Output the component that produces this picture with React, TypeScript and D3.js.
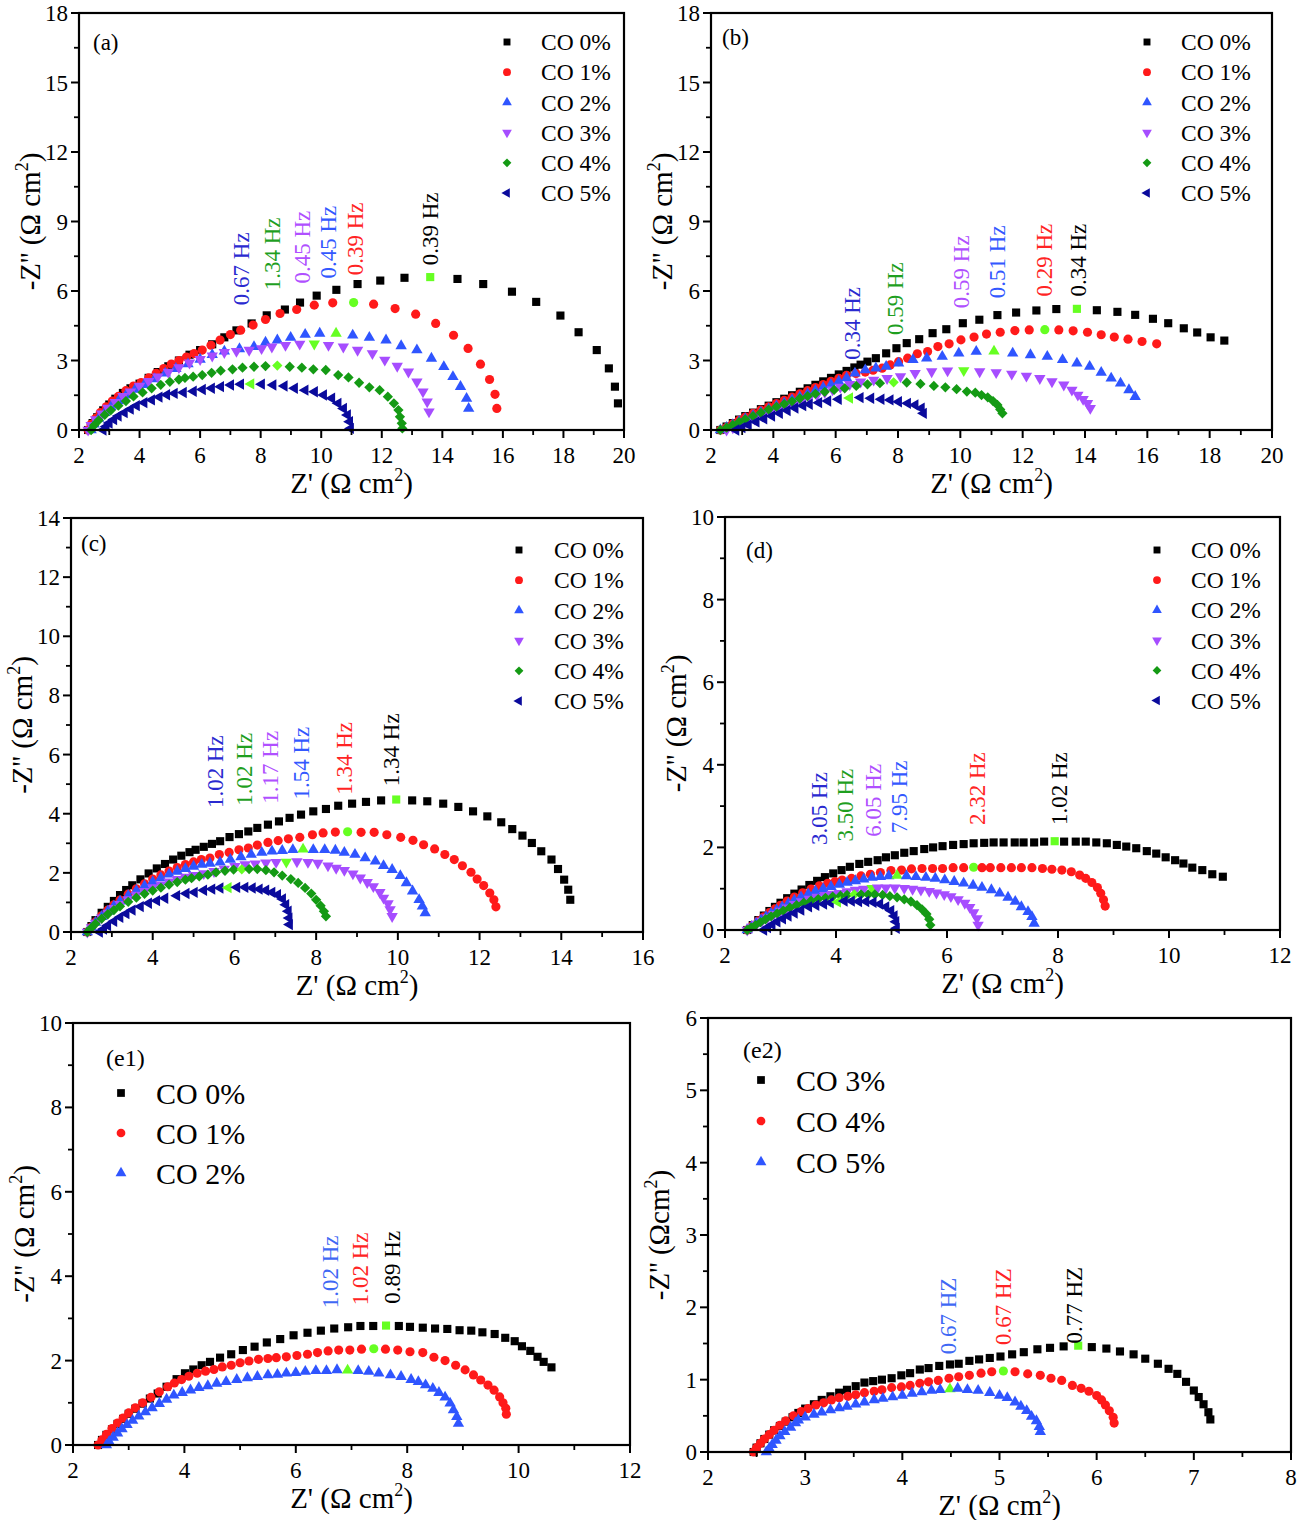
import * as d3 from 'd3';

type Pt = [number, number];

// ---------- panel (a) ----------
const aCO0: Pt[] = [[2.3,0],[2.45,0.3],[2.6,0.55],[2.8,0.85],[3.0,1.1],[3.2,1.35],[3.45,1.6],[3.7,1.8],[4.0,2.0],[4.3,2.25],[4.6,2.5],[4.95,2.75],[5.3,3.0],[5.65,3.25],[6.0,3.45],[6.4,3.7],[6.8,4.0],[7.2,4.3],[7.7,4.6],[8.2,4.95],[8.8,5.2],[9.3,5.5],[9.85,5.8],[10.5,6.05],[11.2,6.3],[11.95,6.45],[12.75,6.57],[13.6,6.6],[14.5,6.52],[15.35,6.3],[16.3,5.97],[17.1,5.53],[17.9,4.94],[18.5,4.22],[19.1,3.45],[19.5,2.66],[19.7,1.87],[19.8,1.15]];
const aCO1: Pt[] = [[2.3,0],[2.4,0.25],[2.55,0.5],[2.7,0.75],[2.9,1.0],[3.1,1.25],[3.3,1.45],[3.55,1.7],[3.8,1.9],[4.05,2.05],[4.3,2.25],[4.55,2.45],[4.8,2.65],[5.05,2.85],[5.3,3.0],[5.55,3.15],[5.8,3.3],[6.07,3.45],[6.36,3.66],[6.66,3.88],[7.0,4.12],[7.34,4.31],[7.75,4.53],[8.16,4.77],[8.64,5.03],[9.19,5.2],[9.77,5.39],[10.38,5.49],[11.07,5.5],[11.73,5.43],[12.44,5.24],[13.12,5.0],[13.78,4.6],[14.37,4.09],[14.85,3.52],[15.26,2.84],[15.56,2.18],[15.74,1.54],[15.8,0.93]];
const aCO2: Pt[] = [[2.4,0],[2.5,0.25],[2.65,0.5],[2.85,0.75],[3.05,1.0],[3.3,1.25],[3.55,1.5],[3.85,1.75],[4.15,1.95],[4.5,2.2],[4.85,2.45],[5.2,2.65],[5.6,2.85],[6.0,3.05],[6.4,3.25],[6.8,3.4],[7.3,3.5],[7.78,3.59],[8.16,3.78],[8.55,3.88],[8.99,3.99],[9.47,4.12],[9.95,4.17],[10.49,4.17],[11.04,4.09],[11.59,3.99],[12.14,3.88],[12.64,3.63],[13.16,3.45],[13.64,3.09],[14.05,2.73],[14.35,2.3],[14.6,1.87],[14.8,1.36],[14.87,0.93]];
const aCO3: Pt[] = [[2.3,0],[2.4,0.2],[2.55,0.45],[2.75,0.7],[2.95,0.95],[3.2,1.2],[3.45,1.45],[3.7,1.65],[4.0,1.9],[4.3,2.1],[4.6,2.3],[4.95,2.5],[5.3,2.7],[5.65,2.9],[6.0,3.05],[6.4,3.2],[6.8,3.35],[7.2,3.4],[7.62,3.45],[8.03,3.52],[8.37,3.59],[8.82,3.66],[9.29,3.71],[9.77,3.72],[10.24,3.66],[10.73,3.59],[11.2,3.45],[11.69,3.3],[12.1,3.02],[12.51,2.76],[12.88,2.51],[13.16,2.08],[13.36,1.65],[13.5,1.22],[13.56,0.79]];
const aCO4: Pt[] = [[2.4,0],[2.5,0.2],[2.65,0.42],[2.85,0.65],[3.05,0.85],[3.3,1.05],[3.55,1.25],[3.8,1.45],[4.1,1.62],[4.4,1.8],[4.7,1.95],[5.0,2.08],[5.3,2.18],[5.5,2.25],[5.77,2.3],[6.07,2.37],[6.38,2.47],[6.68,2.56],[7.07,2.62],[7.4,2.69],[7.78,2.73],[8.16,2.76],[8.55,2.78],[8.96,2.73],[9.36,2.69],[9.74,2.62],[10.15,2.59],[10.56,2.37],[10.9,2.27],[11.25,2.04],[11.59,1.84],[11.93,1.72],[12.2,1.44],[12.4,1.15],[12.55,0.86],[12.6,0.57],[12.66,0.29],[12.68,0.07]];
const aCO5: Pt[] = [[2.8,0],[2.9,0.15],[3.0,0.3],[3.15,0.45],[3.3,0.6],[3.5,0.75],[3.7,0.9],[3.9,1.05],[4.15,1.18],[4.4,1.3],[4.65,1.42],[4.9,1.52],[5.15,1.58],[5.45,1.62],[5.78,1.67],[6.08,1.75],[6.38,1.8],[6.68,1.87],[7.01,1.94],[7.34,1.98],[7.68,1.99],[8.03,1.98],[8.41,1.94],[8.78,1.9],[9.12,1.8],[9.47,1.72],[9.78,1.65],[10.08,1.51],[10.35,1.37],[10.56,1.15],[10.74,0.93],[10.87,0.65],[10.94,0.36],[10.97,0.07]];
const aPeaks = [13.6, 11.07, 10.49, 9.77, 8.55, 7.68];
const aFreq = ['0.39 Hz', '0.39 Hz', '0.45 Hz', '0.45 Hz', '1.34 Hz', '0.67 Hz'];
const aFreqAt: Pt[] = [[13.58,7.11],[11.11,6.68],[10.22,6.54],[9.37,6.32],[8.37,6.03],[7.34,5.39]];

// ---------- panel (b) ----------
const bCO0: Pt[] = [[2.3,0],[2.5,0.15],[2.7,0.3],[2.9,0.45],[3.1,0.6],[3.35,0.75],[3.6,0.9],[3.85,1.05],[4.1,1.2],[4.35,1.35],[4.6,1.5],[4.85,1.65],[5.1,1.8],[5.35,1.95],[5.6,2.1],[5.85,2.25],[6.1,2.4],[6.35,2.55],[6.6,2.7],[6.8,2.82],[7.02,2.95],[7.29,3.1],[7.62,3.31],[7.95,3.53],[8.28,3.75],[8.68,3.92],[9.11,4.18],[9.55,4.35],[10.08,4.61],[10.61,4.76],[11.19,4.96],[11.79,5.07],[12.44,5.16],[13.08,5.22],[13.74,5.23],[14.38,5.17],[15.04,5.1],[15.61,4.97],[16.18,4.8],[16.67,4.61],[17.17,4.39],[17.6,4.21],[18.03,4.0],[18.47,3.86]];
const bCO1: Pt[] = [[2.3,0],[2.5,0.12],[2.7,0.27],[2.9,0.42],[3.1,0.56],[3.35,0.72],[3.6,0.86],[3.85,1.0],[4.1,1.14],[4.35,1.28],[4.6,1.42],[4.85,1.56],[5.1,1.7],[5.35,1.83],[5.6,1.96],[5.85,2.1],[6.1,2.23],[6.35,2.36],[6.65,2.44],[6.95,2.5],[7.2,2.58],[7.49,2.67],[7.75,2.81],[8.02,2.95],[8.31,3.1],[8.62,3.29],[8.95,3.39],[9.28,3.6],[9.64,3.72],[10.02,3.89],[10.44,4.01],[10.84,4.14],[11.28,4.22],[11.75,4.29],[12.21,4.32],[12.71,4.33],[13.16,4.32],[13.62,4.28],[14.08,4.22],[14.52,4.11],[14.94,4.01],[15.38,3.92],[15.83,3.82],[16.3,3.72]];
const bCO2: Pt[] = [[2.3,0],[2.5,0.1],[2.7,0.22],[2.9,0.35],[3.1,0.48],[3.35,0.62],[3.6,0.76],[3.85,0.9],[4.1,1.03],[4.35,1.16],[4.6,1.3],[4.85,1.43],[5.1,1.56],[5.35,1.7],[5.6,1.83],[5.85,1.96],[6.1,2.1],[6.35,2.25],[6.62,2.45],[6.95,2.59],[7.29,2.67],[7.62,2.74],[8.02,2.88],[8.48,3.03],[8.92,3.1],[9.42,3.17],[9.95,3.31],[10.51,3.39],[11.08,3.4],[11.68,3.31],[12.25,3.24],[12.79,3.17],[13.28,3.03],[13.74,2.88],[14.15,2.74],[14.52,2.48],[14.84,2.23],[15.14,2.02],[15.41,1.73],[15.61,1.44]];
const bCO3: Pt[] = [[2.5,0],[2.7,0.1],[2.9,0.22],[3.15,0.35],[3.4,0.48],[3.65,0.62],[3.9,0.75],[4.15,0.88],[4.4,1.0],[4.65,1.12],[4.9,1.25],[5.15,1.38],[5.4,1.5],[5.65,1.62],[5.9,1.74],[6.15,1.85],[6.45,1.97],[6.8,2.08],[7.22,2.16],[7.65,2.23],[8.08,2.31],[8.55,2.45],[9.08,2.52],[9.59,2.56],[10.11,2.57],[10.62,2.52],[11.15,2.48],[11.65,2.42],[12.12,2.33],[12.55,2.23],[12.94,2.09],[13.32,1.95],[13.58,1.73],[13.77,1.51],[13.94,1.33],[14.08,1.15],[14.17,0.94]];
const bCO4: Pt[] = [[2.3,0],[2.5,0.1],[2.7,0.22],[2.9,0.34],[3.1,0.46],[3.35,0.6],[3.6,0.74],[3.85,0.88],[4.1,1.0],[4.35,1.12],[4.6,1.24],[4.85,1.36],[5.1,1.46],[5.35,1.56],[5.65,1.65],[5.95,1.73],[6.29,1.8],[6.66,1.9],[7.02,1.97],[7.42,2.02],[7.86,2.06],[8.28,2.05],[8.72,1.99],[9.15,1.9],[9.52,1.84],[9.88,1.76],[10.21,1.66],[10.48,1.61],[10.68,1.51],[10.88,1.41],[11.05,1.25],[11.19,1.08],[11.28,0.89],[11.35,0.72]];
const bCO5: Pt[] = [[2.8,0],[3.0,0.1],[3.2,0.22],[3.45,0.35],[3.7,0.48],[3.95,0.6],[4.2,0.72],[4.45,0.84],[4.7,0.95],[4.95,1.05],[5.16,1.11],[5.46,1.18],[5.75,1.25],[6.09,1.33],[6.45,1.38],[6.79,1.4],[7.13,1.37],[7.46,1.33],[7.75,1.3],[8.02,1.22],[8.31,1.15],[8.55,1.08],[8.75,0.94],[8.82,0.72]];
const bPeaks = [13.74, 12.71, 11.08, 10.11, 7.86, 6.45];
const bFreq = ['0.34 Hz', '0.29 Hz', '0.51 Hz', '0.59 Hz', '0.59 Hz', '0.34 Hz'];
const bFreqAt: Pt[] = [[13.77,5.76],[12.68,5.76],[11.19,5.69],[10.02,5.26],[7.89,4.1],[6.53,3.03]];

// ---------- panel (c) ----------
const cCO0: Pt[] = [[2.4,0],[2.5,0.2],[2.6,0.4],[2.75,0.65],[2.9,0.85],[3.05,1.05],[3.2,1.25],[3.35,1.42],[3.5,1.58],[3.7,1.78],[3.9,1.98],[4.1,2.15],[4.3,2.3],[4.5,2.45],[4.7,2.58],[4.9,2.7],[5.05,2.78],[5.25,2.88],[5.45,2.98],[5.65,3.07],[5.88,3.21],[6.11,3.31],[6.34,3.4],[6.56,3.52],[6.82,3.63],[7.09,3.74],[7.35,3.86],[7.63,3.97],[7.93,4.08],[8.24,4.16],[8.54,4.27],[8.88,4.34],[9.22,4.4],[9.59,4.45],[9.96,4.48],[10.35,4.45],[10.72,4.42],[11.11,4.34],[11.48,4.23],[11.84,4.08],[12.19,3.91],[12.53,3.71],[12.8,3.48],[13.05,3.26],[13.28,3.01],[13.51,2.73],[13.76,2.45],[13.92,2.13],[14.07,1.77],[14.17,1.43],[14.22,1.09]];
const cCO1: Pt[] = [[2.4,0],[2.5,0.17],[2.6,0.34],[2.75,0.55],[2.9,0.74],[3.05,0.92],[3.2,1.08],[3.4,1.28],[3.6,1.46],[3.8,1.63],[4.0,1.79],[4.2,1.93],[4.4,2.06],[4.6,2.18],[4.8,2.28],[5.0,2.37],[5.19,2.45],[5.4,2.5],[5.63,2.62],[5.87,2.69],[6.11,2.78],[6.34,2.84],[6.56,2.94],[6.82,3.03],[7.07,3.09],[7.32,3.15],[7.6,3.2],[7.91,3.29],[8.17,3.35],[8.47,3.38],[8.77,3.39],[9.1,3.37],[9.42,3.37],[9.73,3.29],[10.07,3.2],[10.37,3.1],[10.63,2.95],[10.9,2.81],[11.15,2.62],[11.38,2.45],[11.58,2.24],[11.79,2.02],[11.94,1.79],[12.1,1.57],[12.25,1.32],[12.35,1.09],[12.4,0.85]];
const cCO2: Pt[] = [[2.4,0],[2.5,0.16],[2.6,0.32],[2.75,0.52],[2.9,0.7],[3.05,0.88],[3.2,1.04],[3.4,1.23],[3.6,1.4],[3.8,1.56],[4.0,1.7],[4.2,1.83],[4.4,1.95],[4.6,2.05],[4.8,2.14],[5.0,2.22],[5.2,2.28],[5.4,2.32],[5.65,2.36],[5.9,2.45],[6.16,2.54],[6.41,2.62],[6.67,2.69],[6.92,2.73],[7.17,2.75],[7.43,2.78],[7.68,2.8],[7.93,2.78],[8.21,2.78],[8.47,2.76],[8.69,2.69],[8.95,2.62],[9.2,2.5],[9.45,2.39],[9.65,2.24],[9.86,2.11],[10.06,1.9],[10.21,1.66],[10.36,1.38],[10.52,1.09],[10.6,0.87],[10.67,0.64]];
const cCO3: Pt[] = [[2.4,0],[2.5,0.15],[2.6,0.3],[2.75,0.48],[2.9,0.64],[3.05,0.8],[3.2,0.94],[3.4,1.1],[3.6,1.25],[3.8,1.38],[4.0,1.5],[4.2,1.6],[4.4,1.7],[4.6,1.78],[4.8,1.86],[5.0,1.92],[5.25,1.98],[5.5,2.05],[5.75,2.13],[6.01,2.22],[6.26,2.28],[6.51,2.31],[6.77,2.34],[7.02,2.36],[7.27,2.37],[7.53,2.38],[7.8,2.36],[8.04,2.33],[8.29,2.24],[8.49,2.16],[8.69,2.09],[8.9,1.97],[9.08,1.83],[9.25,1.68],[9.4,1.54],[9.56,1.34],[9.65,1.15],[9.76,0.96],[9.81,0.76],[9.86,0.53]];
const cCO4: Pt[] = [[2.4,0],[2.5,0.14],[2.6,0.28],[2.75,0.45],[2.9,0.6],[3.05,0.74],[3.2,0.87],[3.4,1.02],[3.6,1.16],[3.8,1.29],[4.0,1.4],[4.2,1.5],[4.4,1.6],[4.6,1.69],[4.8,1.77],[4.95,1.82],[5.14,1.88],[5.35,1.94],[5.55,2.02],[5.77,2.07],[5.98,2.11],[6.18,2.12],[6.36,2.13],[6.56,2.13],[6.77,2.09],[6.97,2.02],[7.17,1.91],[7.38,1.79],[7.56,1.66],[7.73,1.49],[7.88,1.3],[8.0,1.09],[8.11,0.89],[8.19,0.7],[8.24,0.53]];
const cCO5: Pt[] = [[2.7,0],[2.8,0.1],[2.9,0.22],[3.05,0.36],[3.2,0.5],[3.35,0.62],[3.5,0.74],[3.7,0.86],[3.9,0.97],[4.1,1.06],[4.3,1.14],[4.59,1.23],[4.82,1.3],[5.02,1.34],[5.25,1.41],[5.45,1.45],[5.65,1.49],[5.85,1.5],[6.06,1.51],[6.26,1.51],[6.44,1.49],[6.61,1.45],[6.77,1.41],[6.92,1.34],[7.06,1.26],[7.18,1.12],[7.26,0.92],[7.32,0.7],[7.34,0.47],[7.35,0.25]];
const cPeaks = [9.96, 8.77, 7.68, 7.27, 6.18, 5.85];
const cFreq = ['1.34 Hz', '1.34 Hz', '1.54 Hz', '1.17 Hz', '1.02 Hz', '1.02 Hz'];
const cFreqAt: Pt[] = [[9.83,4.93],[8.69,4.64],[7.63,4.48],[6.87,4.34],[6.24,4.27],[5.53,4.19]];

// ---------- panel (d) ----------
const dCO0: Pt[] = [[2.4,0],[2.5,0.12],[2.6,0.24],[2.7,0.35],[2.8,0.46],[2.9,0.56],[3.0,0.66],[3.12,0.77],[3.25,0.88],[3.38,0.98],[3.52,1.09],[3.66,1.19],[3.8,1.28],[3.95,1.37],[4.1,1.45],[4.25,1.53],[4.42,1.6],[4.58,1.65],[4.75,1.69],[4.9,1.76],[5.06,1.81],[5.23,1.87],[5.4,1.91],[5.59,1.96],[5.75,2.0],[5.92,2.03],[6.11,2.06],[6.3,2.08],[6.48,2.1],[6.67,2.11],[6.84,2.12],[7.02,2.12],[7.22,2.12],[7.38,2.12],[7.57,2.12],[7.75,2.14],[7.94,2.15],[8.11,2.14],[8.32,2.14],[8.5,2.14],[8.69,2.12],[8.88,2.1],[9.06,2.06],[9.23,2.02],[9.41,1.98],[9.6,1.91],[9.77,1.85],[9.94,1.76],[10.11,1.69],[10.26,1.61],[10.42,1.51],[10.6,1.45],[10.78,1.35],[10.97,1.29]];
const dCO1: Pt[] = [[2.4,0],[2.5,0.11],[2.6,0.22],[2.7,0.32],[2.8,0.42],[2.9,0.51],[3.0,0.6],[3.12,0.7],[3.25,0.8],[3.4,0.9],[3.55,0.99],[3.7,1.07],[3.85,1.13],[3.98,1.17],[4.11,1.21],[4.28,1.25],[4.45,1.31],[4.62,1.35],[4.8,1.39],[4.99,1.44],[5.18,1.45],[5.36,1.48],[5.55,1.49],[5.74,1.49],[5.92,1.49],[6.11,1.51],[6.3,1.51],[6.48,1.52],[6.63,1.51],[6.78,1.51],[6.97,1.51],[7.16,1.51],[7.34,1.51],[7.53,1.51],[7.72,1.49],[7.89,1.47],[8.07,1.45],[8.24,1.41],[8.39,1.33],[8.5,1.25],[8.61,1.15],[8.71,1.03],[8.77,0.89],[8.82,0.73],[8.85,0.58]];
const dCO2: Pt[] = [[2.4,0],[2.48,0.08],[2.56,0.16],[2.65,0.24],[2.74,0.32],[2.83,0.4],[2.93,0.48],[3.03,0.56],[3.14,0.64],[3.25,0.72],[3.37,0.8],[3.5,0.87],[3.63,0.94],[3.77,1.0],[3.91,1.05],[4.06,1.1],[4.2,1.15],[4.35,1.19],[4.5,1.23],[4.65,1.27],[4.8,1.29],[4.95,1.31],[5.1,1.32],[5.27,1.31],[5.44,1.29],[5.62,1.27],[5.79,1.25],[5.96,1.21],[6.13,1.17],[6.3,1.13],[6.47,1.08],[6.63,1.03],[6.8,0.97],[6.95,0.89],[7.1,0.79],[7.23,0.69],[7.34,0.56],[7.46,0.44],[7.53,0.32],[7.57,0.16]];
const dCO3: Pt[] = [[2.4,0],[2.48,0.07],[2.57,0.14],[2.67,0.22],[2.77,0.3],[2.88,0.38],[3.0,0.46],[3.12,0.54],[3.25,0.62],[3.38,0.69],[3.52,0.75],[3.66,0.8],[3.8,0.84],[3.93,0.87],[4.06,0.89],[4.2,0.93],[4.35,0.97],[4.5,0.99],[4.65,1.01],[4.75,1.02],[4.9,1.02],[5.06,1.02],[5.23,1.01],[5.38,0.99],[5.53,0.97],[5.68,0.94],[5.81,0.9],[5.95,0.86],[6.07,0.81],[6.2,0.74],[6.32,0.65],[6.41,0.55],[6.48,0.42],[6.54,0.28],[6.56,0.12]];
const dCO4: Pt[] = [[2.4,0],[2.47,0.06],[2.55,0.12],[2.64,0.19],[2.73,0.26],[2.83,0.33],[2.94,0.4],[3.05,0.47],[3.17,0.54],[3.29,0.6],[3.42,0.66],[3.55,0.71],[3.68,0.75],[3.81,0.78],[3.94,0.81],[4.08,0.83],[4.2,0.85],[4.33,0.86],[4.45,0.86],[4.58,0.86],[4.7,0.86],[4.84,0.85],[4.97,0.82],[5.1,0.79],[5.23,0.74],[5.35,0.69],[5.46,0.6],[5.55,0.5],[5.63,0.39],[5.68,0.26],[5.7,0.12]];
const dCO5: Pt[] = [[2.7,0],[2.77,0.06],[2.85,0.13],[2.94,0.2],[3.04,0.27],[3.14,0.34],[3.25,0.41],[3.37,0.48],[3.51,0.56],[3.64,0.6],[3.78,0.63],[3.9,0.66],[4.03,0.68],[4.15,0.7],[4.28,0.7],[4.41,0.69],[4.54,0.69],[4.67,0.67],[4.79,0.63],[4.9,0.56],[4.99,0.47],[5.05,0.34],[5.08,0.2],[5.09,0.04]];
const dPeaks = [7.94, 6.48, 5.1, 4.65, 4.33, 4.03];
const dFreq = ['1.02 Hz', '2.32 Hz', '7.95 Hz', '6.05 Hz', '3.50 Hz', '3.05 Hz'];
const dFreqAt: Pt[] = [[8.02,2.54],[6.54,2.54],[5.14,2.34],[4.67,2.26],[4.17,2.14],[3.7,2.06]];

// ---------- panel (e1) ----------
const e1CO0: Pt[] = [[2.45,0],[2.52,0.12],[2.6,0.24],[2.7,0.37],[2.8,0.5],[2.9,0.62],[3.0,0.74],[3.12,0.86],[3.25,0.98],[3.38,1.1],[3.52,1.22],[3.68,1.38],[3.86,1.56],[4.01,1.7],[4.16,1.79],[4.31,1.89],[4.46,1.97],[4.64,2.07],[4.84,2.15],[5.05,2.25],[5.26,2.33],[5.48,2.43],[5.72,2.51],[5.96,2.6],[6.21,2.66],[6.45,2.71],[6.69,2.76],[6.94,2.79],[7.16,2.82],[7.39,2.82],[7.62,2.83],[7.85,2.82],[8.05,2.8],[8.28,2.78],[8.5,2.76],[8.72,2.75],[8.94,2.72],[9.15,2.71],[9.35,2.67],[9.57,2.63],[9.76,2.54],[9.93,2.46],[10.06,2.34],[10.21,2.23],[10.34,2.09],[10.45,1.97],[10.59,1.84]];
const e1CO1: Pt[] = [[2.45,0],[2.52,0.12],[2.6,0.25],[2.7,0.39],[2.8,0.52],[2.9,0.64],[3.0,0.76],[3.12,0.88],[3.25,1.0],[3.4,1.13],[3.55,1.26],[3.7,1.38],[3.82,1.47],[3.95,1.55],[4.08,1.63],[4.23,1.7],[4.38,1.75],[4.53,1.79],[4.68,1.85],[4.84,1.89],[5.0,1.95],[5.16,1.99],[5.33,2.03],[5.5,2.05],[5.65,2.07],[5.83,2.09],[6.02,2.12],[6.21,2.15],[6.39,2.19],[6.58,2.23],[6.77,2.25],[6.97,2.25],[7.18,2.27],[7.4,2.28],[7.61,2.27],[7.83,2.25],[8.05,2.21],[8.28,2.19],[8.48,2.08],[8.68,2.0],[8.87,1.89],[9.04,1.78],[9.19,1.66],[9.32,1.54],[9.45,1.42],[9.56,1.3],[9.66,1.14],[9.72,1.0],[9.77,0.87],[9.78,0.73]];
const e1CO2: Pt[] = [[2.6,0],[2.65,0.08],[2.72,0.18],[2.8,0.28],[2.88,0.38],[2.97,0.48],[3.07,0.58],[3.18,0.68],[3.3,0.78],[3.42,0.88],[3.55,0.98],[3.68,1.08],[3.81,1.18],[3.96,1.24],[4.11,1.3],[4.26,1.36],[4.42,1.4],[4.58,1.46],[4.75,1.5],[4.94,1.55],[5.13,1.59],[5.31,1.62],[5.5,1.66],[5.67,1.67],[5.83,1.7],[6.0,1.71],[6.17,1.74],[6.36,1.76],[6.55,1.76],[6.74,1.78],[6.93,1.77],[7.12,1.76],[7.31,1.74],[7.49,1.7],[7.7,1.66],[7.89,1.62],[8.07,1.55],[8.2,1.5],[8.33,1.42],[8.46,1.34],[8.57,1.24],[8.68,1.13],[8.77,0.99],[8.83,0.83],[8.89,0.67],[8.92,0.51]];
const e1Peaks = [7.62, 7.4, 6.93];
const e1Freq = ['0.89 Hz', '1.02 Hz', '1.02 Hz'];
const e1FreqAt: Pt[] = [[7.73,3.35],[7.16,3.31],[6.62,3.24]];

// ---------- panel (e2) ----------
const e2CO3: Pt[] = [[2.47,0],[2.5,0.06],[2.54,0.12],[2.58,0.18],[2.63,0.24],[2.68,0.3],[2.74,0.36],[2.8,0.42],[2.87,0.48],[2.93,0.54],[3.0,0.6],[3.09,0.66],[3.17,0.72],[3.26,0.77],[3.35,0.82],[3.43,0.86],[3.52,0.91],[3.61,0.96],[3.7,0.98],[3.79,1.0],[3.89,1.02],[3.99,1.06],[4.08,1.09],[4.18,1.14],[4.27,1.16],[4.38,1.19],[4.49,1.21],[4.58,1.22],[4.69,1.26],[4.79,1.28],[4.9,1.3],[5.01,1.32],[5.13,1.35],[5.25,1.38],[5.39,1.42],[5.52,1.44],[5.66,1.46],[5.81,1.47],[5.95,1.45],[6.1,1.43],[6.24,1.39],[6.38,1.35],[6.5,1.29],[6.63,1.22],[6.74,1.15],[6.83,1.08],[6.92,0.97],[7.0,0.85],[7.05,0.76],[7.1,0.66],[7.15,0.55],[7.17,0.45]];
const e2CO4: Pt[] = [[2.47,0],[2.5,0.06],[2.54,0.12],[2.58,0.18],[2.63,0.24],[2.68,0.3],[2.74,0.37],[2.8,0.43],[2.88,0.5],[2.96,0.56],[3.03,0.6],[3.11,0.65],[3.19,0.68],[3.27,0.72],[3.35,0.75],[3.44,0.77],[3.52,0.79],[3.61,0.82],[3.71,0.84],[3.79,0.86],[3.89,0.89],[3.99,0.9],[4.08,0.92],[4.18,0.95],[4.27,0.97],[4.37,0.99],[4.48,1.02],[4.58,1.04],[4.69,1.06],[4.81,1.09],[4.92,1.11],[5.04,1.12],[5.16,1.11],[5.29,1.08],[5.42,1.06],[5.53,1.02],[5.64,0.99],[5.75,0.92],[5.84,0.88],[5.92,0.84],[6.0,0.78],[6.05,0.72],[6.09,0.65],[6.13,0.57],[6.17,0.48],[6.18,0.4]];
const e2CO5: Pt[] = [[2.6,0],[2.63,0.05],[2.66,0.1],[2.7,0.16],[2.74,0.22],[2.79,0.28],[2.85,0.34],[2.9,0.4],[2.93,0.44],[3.0,0.48],[3.09,0.52],[3.17,0.55],[3.26,0.58],[3.35,0.61],[3.43,0.63],[3.52,0.66],[3.61,0.69],[3.71,0.72],[3.8,0.74],[3.9,0.76],[4.0,0.78],[4.1,0.81],[4.2,0.83],[4.3,0.85],[4.39,0.86],[4.49,0.87],[4.57,0.88],[4.67,0.86],[4.78,0.85],[4.9,0.82],[5.0,0.78],[5.08,0.75],[5.16,0.69],[5.22,0.63],[5.28,0.57],[5.33,0.49],[5.38,0.43],[5.41,0.35],[5.42,0.28]];
const e2Peaks = [5.81, 5.04, 4.49];
const e2Freq = ['0.77 HZ', '0.67 HZ', '0.67 HZ'];
const e2FreqAt: Pt[] = [[5.77,1.5],[5.04,1.48],[4.47,1.35]];

const sixNames = ['CO 0%', 'CO 1%', 'CO 2%', 'CO 3%', 'CO 4%', 'CO 5%'];
const e1Names = ['CO 0%', 'CO 1%', 'CO 2%'];
const e2Names = ['CO 3%', 'CO 4%', 'CO 5%'];

const ticks2to20 = [2, 4, 6, 8, 10, 12, 14, 16, 18, 20];
const ticks0to18 = [0, 3, 6, 9, 12, 15, 18];
const ticks2to16 = [2, 4, 6, 8, 10, 12, 14, 16];
const ticks0to14 = [0, 2, 4, 6, 8, 10, 12, 14];
const ticks2to12 = [2, 4, 6, 8, 10, 12];
const ticks0to10 = [0, 2, 4, 6, 8, 10];
const ticks2to8 = [2, 3, 4, 5, 6, 7, 8];
const ticks0to6 = [0, 1, 2, 3, 4, 5, 6];

// ---------- styles ----------
type Shape = 'square' | 'circle' | 'up' | 'down' | 'diamond' | 'left';
const C = {
  black: '#000000', red: '#ff1a1a', blue: '#2f55ff', purple: '#a64dff', green: '#149a14', navy: '#0a0a9c',
};
const sixStyle: { color: string; shape: Shape; label: string }[] = [
  { color: C.black, shape: 'square', label: '#000000' },
  { color: C.red, shape: 'circle', label: '#ff2424' },
  { color: C.blue, shape: 'up', label: '#3358ff' },
  { color: C.purple, shape: 'down', label: '#b050ff' },
  { color: C.green, shape: 'diamond', label: '#1f9f1f' },
  { color: C.navy, shape: 'left', label: '#2a2ad0' },
];
const threeStyle: { color: string; shape: Shape; label: string }[] = [
  { color: C.black, shape: 'square', label: '#000000' },
  { color: C.red, shape: 'circle', label: '#ff2424' },
  { color: C.blue, shape: 'up', label: '#3f68f4' },
];
const PEAK = '#66ff22';
const FONT = "'Liberation Serif', 'Times New Roman', serif";

function symbolPath(shape: Shape, size: number): { d: string; rot: number } {
  const s = d3.symbol();
  switch (shape) {
    case 'square': return { d: s.type(d3.symbolSquare).size(size)()!, rot: 0 };
    case 'circle': return { d: s.type(d3.symbolCircle).size(size)()!, rot: 0 };
    case 'diamond': return { d: s.type(d3.symbolSquare).size(size * 0.8)()!, rot: 45 };
    case 'up': return { d: s.type(d3.symbolTriangle).size(size * 0.85)()!, rot: 0 };
    case 'down': return { d: s.type(d3.symbolTriangle).size(size * 0.85)()!, rot: 180 };
    case 'left': return { d: s.type(d3.symbolTriangle).size(size * 0.85)()!, rot: -90 };
  }
}

interface PanelDef {
  letter: string;
  frame: { l: number; t: number; r: number; b: number };
  xTicks: number[];
  yTicks: number[];
  series: Pt[][];
  names: string[];
  styles: typeof sixStyle;
  peaks: number[];
  freq: string[];
  freqAt: Pt[];
  letterAt: [number, number];
  letterSize: number;
  legend: { sx: number; tx: number; y0: number; dy: number; font: number; sym: number };
  yTitle: string;
}

const panels: PanelDef[] = [
  {
    letter: '(a)', frame: { l: 79, t: 13, r: 624, b: 430 }, xTicks: ticks2to20, yTicks: ticks0to18,
    series: [aCO0, aCO1, aCO2, aCO3, aCO4, aCO5], names: sixNames, styles: sixStyle, peaks: aPeaks,
    freq: aFreq, freqAt: aFreqAt, letterAt: [93, 50], letterSize: 23,
    legend: { sx: 507, tx: 541, y0: 42, dy: 30.2, font: 23.5, sym: 48 }, yTitle: "-Z'' (Ω cm",
  },
  {
    letter: '(b)', frame: { l: 711, t: 13, r: 1272, b: 430 }, xTicks: ticks2to20, yTicks: ticks0to18,
    series: [bCO0, bCO1, bCO2, bCO3, bCO4, bCO5], names: sixNames, styles: sixStyle, peaks: bPeaks,
    freq: bFreq, freqAt: bFreqAt, letterAt: [722, 45], letterSize: 23,
    legend: { sx: 1147, tx: 1181, y0: 42, dy: 30.2, font: 23.5, sym: 48 }, yTitle: "-Z'' (Ω cm",
  },
  {
    letter: '(c)', frame: { l: 71, t: 518, r: 643, b: 932 }, xTicks: ticks2to16, yTicks: ticks0to14,
    series: [cCO0, cCO1, cCO2, cCO3, cCO4, cCO5], names: sixNames, styles: sixStyle, peaks: cPeaks,
    freq: cFreq, freqAt: cFreqAt, letterAt: [81, 551], letterSize: 23,
    legend: { sx: 519, tx: 554, y0: 550, dy: 30.2, font: 23.5, sym: 48 }, yTitle: "-Z'' (Ω cm",
  },
  {
    letter: '(d)', frame: { l: 725, t: 517, r: 1280, b: 930 }, xTicks: ticks2to12, yTicks: ticks0to10,
    series: [dCO0, dCO1, dCO2, dCO3, dCO4, dCO5], names: sixNames, styles: sixStyle, peaks: dPeaks,
    freq: dFreq, freqAt: dFreqAt, letterAt: [746, 558], letterSize: 23,
    legend: { sx: 1157, tx: 1191, y0: 550, dy: 30.1, font: 23.5, sym: 48 }, yTitle: "-Z'' (Ω cm",
  },
  {
    letter: '(e1)', frame: { l: 73, t: 1023, r: 630, b: 1445 }, xTicks: ticks2to12, yTicks: ticks0to10,
    series: [e1CO0, e1CO1, e1CO2], names: e1Names, styles: threeStyle, peaks: e1Peaks,
    freq: e1Freq, freqAt: e1FreqAt, letterAt: [106, 1066], letterSize: 24,
    legend: { sx: 121, tx: 156, y0: 1093, dy: 40, font: 30, sym: 60 }, yTitle: "-Z'' (Ω cm",
  },
  {
    letter: '(e2)', frame: { l: 708, t: 1018, r: 1291, b: 1452 }, xTicks: ticks2to8, yTicks: ticks0to6,
    series: [e2CO3, e2CO4, e2CO5], names: e2Names, styles: threeStyle, peaks: e2Peaks,
    freq: e2Freq, freqAt: e2FreqAt, letterAt: [743, 1058], letterSize: 24,
    legend: { sx: 761, tx: 796, y0: 1080, dy: 41, font: 30, sym: 60 }, yTitle: "-Z'' (Ωcm",
  },
];

const Panel = ({ p }: { p: PanelDef }) => {
  const { l, t, r, b } = p.frame;
  const x = d3.scaleLinear().domain(d3.extent(p.xTicks) as [number, number]).range([l, r]);
  const y = d3.scaleLinear().domain(d3.extent(p.yTicks) as [number, number]).range([b, t]);
  const minor = (ts: number[]) => ts.slice(1).map((v, i) => (v + ts[i]) / 2);
  const xMinor = minor(p.xTicks);
  const yMinor = minor(p.yTicks);
  const midY = (t + b) / 2;
  const midX = (l + r) / 2;

  return (
    <g>
      {/* markers */}
      <g>
        {p.series.map((data, si) => {
          const st = p.styles[si];
          const sym = symbolPath(st.shape, 66);
          return (
            <g key={si}>
              {data.map(([dx, dy], i) => (
                <path
                  key={i}
                  d={sym.d}
                  transform={`translate(${x(dx)},${y(dy)}) rotate(${sym.rot})`}
                  fill={dx === p.peaks[si] ? PEAK : st.color}
                />
              ))}
            </g>
          );
        })}
      </g>

      {/* frame and ticks */}
      <rect x={l} y={t} width={r - l} height={b - t} fill="none" stroke="#000" strokeWidth={2.2} />
      {p.xTicks.map((v) => (
        <g key={`x${v}`}>
          <line x1={x(v)} x2={x(v)} y1={b} y2={b + 8} stroke="#000" strokeWidth={2} />
          <text x={x(v)} y={b + 33} textAnchor="middle" fontSize={23} fontFamily={FONT}>{v}</text>
        </g>
      ))}
      {xMinor.map((v) => (
        <line key={`xm${v}`} x1={x(v)} x2={x(v)} y1={b} y2={b + 5} stroke="#000" strokeWidth={1.8} />
      ))}
      {p.yTicks.map((v) => (
        <g key={`y${v}`}>
          <line x1={l - 8} x2={l} y1={y(v)} y2={y(v)} stroke="#000" strokeWidth={2} />
          <text x={l - 11} y={y(v)} dy="0.35em" textAnchor="end" fontSize={23} fontFamily={FONT}>{v}</text>
        </g>
      ))}
      {yMinor.map((v) => (
        <line key={`ym${v}`} x1={l - 5} x2={l} y1={y(v)} y2={y(v)} stroke="#000" strokeWidth={1.8} />
      ))}

      {/* axis titles */}
      <text x={midX} y={b + 63} textAnchor="middle" fontSize={29} fontFamily={FONT}>
        Z' (Ω cm<tspan fontSize={18} dy={-12}>2</tspan><tspan dy={12}>)</tspan>
      </text>
      <text
        transform={`translate(${l - 49},${midY}) rotate(-90)`}
        dy="0.35em"
        textAnchor="middle"
        fontSize={29}
        fontFamily={FONT}
      >
        {p.yTitle}<tspan fontSize={18} dy={-12}>2</tspan><tspan dy={12}>)</tspan>
      </text>

      {/* panel letter */}
      <text x={p.letterAt[0]} y={p.letterAt[1]} fontSize={p.letterSize} fontFamily={FONT}>{p.letter}</text>

      {/* legend */}
      {p.names.map((name, i) => {
        const st = p.styles[i];
        const sym = symbolPath(st.shape, p.legend.sym);
        const ly = p.legend.y0 + i * p.legend.dy;
        return (
          <g key={name}>
            <path d={sym.d} transform={`translate(${p.legend.sx},${ly}) rotate(${sym.rot})`} fill={st.color} />
            <text x={p.legend.tx} y={ly} dy="0.35em" fontSize={p.legend.font} fontFamily={FONT}>{name}</text>
          </g>
        );
      })}

      {/* frequency labels */}
      {p.freq.map((txt, i) => (
        <text
          key={`f${i}`}
          transform={`translate(${x(p.freqAt[i][0])},${y(p.freqAt[i][1])}) rotate(-90)`}
          dy="0.35em"
          fontSize={23}
          fontFamily={FONT}
          fill={p.styles[i].label}
        >
          {txt}
        </text>
      ))}
    </g>
  );
};

export default function App() {
  return (
    <div style={{ position: 'absolute', left: 0, top: 0 }}>
      <svg width={1300} height={1520} style={{ display: 'block', background: '#fff' }}>
        {panels.map((p) => (
          <Panel key={p.letter} p={p} />
        ))}
      </svg>
    </div>
  );
}
